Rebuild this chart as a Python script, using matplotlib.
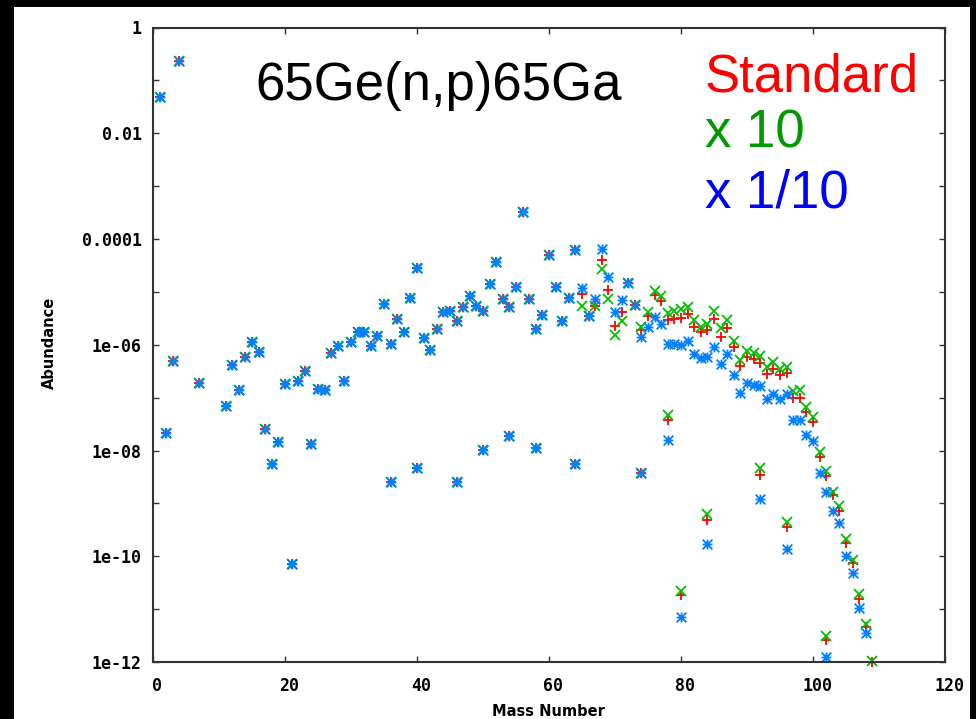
"""abundance vs mass number for 65Ge(n,p)65Ga rate variations"""
import numpy as np
import matplotlib
matplotlib.use('Agg')
import matplotlib.pyplot as plt
import matplotlib.transforms as mtransforms
from matplotlib.path import Path
from matplotlib.patches import Rectangle
from matplotlib.ticker import FixedLocator, FixedFormatter, NullFormatter

# nuclides where all three runs give the same abundance (log10)
common_A = [1, 2, 3, 4, 7, 11, 12, 13, 14, 15, 16, 17, 18, 19, 20, 21, 22, 23,
            24, 25, 26, 27, 28, 29, 30, 31, 32, 33, 34, 35, 36, 36, 37, 38, 39,
            40, 40, 41, 42, 43, 44, 45, 46, 46, 47, 48, 49, 50, 50, 51, 52, 53,
            54, 54, 55, 56, 57, 58, 58, 59, 60, 61, 62, 63, 64, 64, 66, 72, 73, 74]
common_log = [-1.32, -7.66, -6.31, -0.64, -6.72, -7.15, -6.38, -6.86, -6.24, -5.94,
              -6.13, -7.59, -8.25, -7.83, -6.75, -10.15, -6.69, -6.49, -7.88, -6.83,
              -6.86, -6.15, -6.02, -6.69, -5.95, -5.75, -5.75, -6.02, -5.83, -5.22,
              -5.98, -8.60, -5.52, -5.76, -5.12, -4.54, -8.33, -5.87, -6.10, -5.70,
              -5.39, -5.36, -5.56, -8.59, -5.28, -5.08, -5.27, -5.36, -7.99, -4.85,
              -4.43, -5.13, -5.28, -7.72, -4.90, -3.49, -5.13, -5.70, -7.96, -5.43,
              -4.31, -4.90, -5.56, -5.11, -4.21, -8.26, -5.46, -4.84, -5.25, -8.43]

# heavier nuclides where the runs differ (log10)
heavy_A = [65, 67, 68, 69, 70, 71, 74, 75, 76, 77, 78, 78, 79, 80, 80, 81, 82, 83,
           84, 84, 85, 86, 87, 88, 89, 90, 91, 92, 92, 93, 94, 95, 96, 96, 97, 98,
           99, 100, 101, 102, 102, 103, 104, 105, 106, 107, 108, 109]
std_log = [-5.04, -5.27, -4.40, -4.96, -5.64, -5.39, -5.72, -5.45, -5.06, -5.17,
           -5.53, -7.42, -5.52, -5.50, -10.73, -5.42, -5.67, -5.75, -5.73, -9.31,
           -5.52, -5.85, -5.69, -6.05, -6.40, -6.23, -6.27, -6.34, -8.47, -6.55,
           -6.45, -6.57, -6.54, -9.45, -7.01, -7.01, -7.28, -7.46, -8.13, -8.49,
           -11.58, -8.84, -9.14, -9.74, -10.12, -10.80, -11.34, -12.0]
x10_log = [-5.26, -5.27, -4.57, -5.14, -5.82, -5.56, -5.66, -5.38, -4.98, -5.07,
           -5.40, -7.33, -5.37, -5.33, -10.65, -5.28, -5.53, -5.66, -5.60, -9.20,
           -5.37, -5.69, -5.53, -5.92, -6.29, -6.11, -6.16, -6.21, -8.33, -6.42,
           -6.32, -6.45, -6.42, -9.35, -6.87, -6.86, -7.17, -7.36, -8.02, -8.39,
           -11.51, -8.78, -9.05, -9.68, -10.07, -10.72, -11.28, -11.99]
x01_log = [-4.93, -5.13, -4.18, -4.71, -5.39, -5.15, -5.85, -5.66, -5.47, -5.61,
           -5.98, -7.81, -5.99, -6.00, -11.15, -5.92, -6.17, -6.26, -6.23, -9.77,
           -6.05, -6.36, -6.17, -6.57, -6.91, -6.73, -6.76, -6.78, -8.92, -7.03,
           -6.93, -7.03, -6.93, -9.87, -7.42, -7.42, -7.71, -7.82, -8.43, -8.78,
           -11.91, -9.14, -9.38, -9.99, -10.31, -10.97, -11.46, np.nan]

y_ticks = [1, 1e-2, 1e-4, 1e-6, 1e-8, 1e-10, 1e-12]
y_ticklabels = ['1', '0.01', '0.0001', '1e-06', '1e-08', '1e-10', '1e-12']
x_ticks = [0, 20, 40, 60, 80, 100, 120]

W, H = 976, 719
fig = plt.figure(figsize=(W / 100, H / 100), dpi=100, facecolor='black')
fig.patches.append(Rectangle((14 / W, 0), (970 - 14) / W, 1 - 7 / H,
                             transform=fig.transFigure, facecolor='white',
                             edgecolor='none', zorder=-10))
ax = fig.add_axes([153 / W, 1 - 662 / H, 792 / W, 634.5 / H])
ax.set_zorder(1)

A_all = np.array(common_A + heavy_A)
series = [
    (std_log, 'red', '+', 7.8),
    (x10_log, '#00c000', 'x', 7.2),
    (x01_log, '#0080ff', None, 7.0),
]
star = Path([(-1, 0), (1, 0), (0, -1), (0, 1), (-1, -1), (1, 1), (-1, 1), (1, -1)],
            [Path.MOVETO, Path.LINETO] * 4)
for logs, col, mk, ms in series:
    y = 10 ** np.array(common_log + logs)
    ax.plot(A_all, y, linestyle='none', marker=mk if mk else star, ms=ms,
            mew=1.3, color=col, clip_on=False)

ax.set_yscale('log')
ax.set_xlim(0, 120)
ax.set_ylim(1e-12, 1)
ax.yaxis.set_major_locator(FixedLocator(y_ticks))
ax.yaxis.set_major_formatter(FixedFormatter(y_ticklabels))
ax.yaxis.set_minor_locator(FixedLocator([1e-1, 1e-3, 1e-5, 1e-7, 1e-9, 1e-11]))
ax.yaxis.set_minor_formatter(NullFormatter())
ax.set_xticks(x_ticks)

for lab in ax.get_xticklabels() + ax.get_yticklabels():
    lab.set_fontfamily('DejaVu Sans Mono')
    lab.set_fontweight('bold')
    lab.set_fontsize(12)
ax.tick_params(which='both', direction='in', top=True, right=True,
               length=4.5, width=1, color='#333333')
ax.tick_params(axis='x', pad=11)
ax.tick_params(axis='y', pad=8)
shift = mtransforms.ScaledTranslation(4 / 100, 0, fig.dpi_scale_trans)
for lab in ax.get_xticklabels():
    lab.set_transform(lab.get_transform() + shift)
for sp in ax.spines.values():
    sp.set_color('#333333')
    sp.set_linewidth(1.5)

fig.text(49 / W, 1 - 343 / H, 'Abundance', rotation=90, ha='center', va='center',
         fontfamily='DejaVu Sans', fontweight='bold', fontsize=10.5)
fig.text(548 / W, 1 - 712 / H, 'Mass Number', ha='center', va='center',
         fontfamily='DejaVu Sans', fontweight='bold', fontsize=10.5)

big = {'family': 'Liberation Sans', 'size': 38}
fig.text(255 / W, 1 - 100 / H, '65Ge(n,p)65Ga', color='black', va='baseline', fontdict=big)
fig.text(705 / W, 1 - 92 / H, 'Standard', color='red', va='baseline', fontdict=big)
fig.text(705 / W, 1 - 148 / H, 'x 10', color='#009900', va='baseline', fontdict=big)
fig.text(705 / W, 1 - 207 / H, 'x 1/10', color='blue', va='baseline', fontdict=big)

fig.savefig('out.png', dpi=100, facecolor=fig.get_facecolor())
